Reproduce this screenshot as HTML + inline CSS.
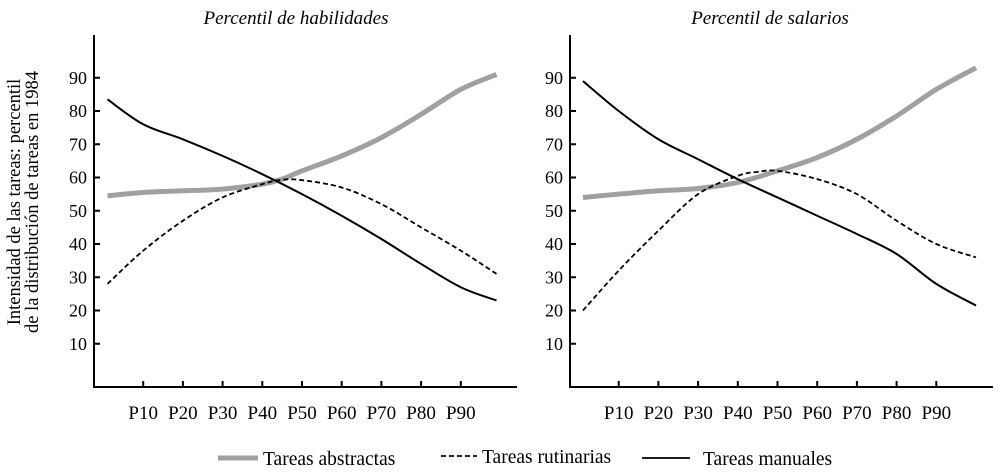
<!DOCTYPE html>
<html><head><meta charset="utf-8"><style>
html,body{margin:0;padding:0;background:#fff;}
svg{display:block;font-family:"Liberation Serif",serif;}
</style></head><body>
<svg id="chart" width="1002" height="473" viewBox="0 0 1002 473">
<text x="296" y="24" font-size="19" font-style="italic" text-anchor="middle">Percentil de habilidades</text>
<text x="770" y="24" font-size="19" font-style="italic" text-anchor="middle">Percentil de salarios</text>
<g transform="translate(20,202) rotate(-90)">
<text x="0" y="0" font-size="18.5" text-anchor="middle">Intensidad de las tareas: percentil</text>
<text x="0" y="18" font-size="18.5" text-anchor="middle">de la distribución de tareas en 1984</text>
</g>
<g id="panels"></g>
<g>
<line x1="218" y1="458" x2="258" y2="458" stroke="#a0a0a0" stroke-width="5"/>
<text x="263" y="465" font-size="19.5">Tareas abstractas</text>
<line x1="441" y1="456" x2="477" y2="456" stroke="#000" stroke-width="1.8" stroke-dasharray="5,3"/>
<text x="482" y="463" font-size="19.5">Tareas rutinarias</text>
<line x1="642" y1="458" x2="690" y2="458" stroke="#000" stroke-width="1.8"/>
<text x="703" y="465" font-size="19.5">Tareas manuales</text>
</g>
</svg>
<script>
const yTicks=[10,20,30,40,50,60,70,80,90];
const xTickLabels=['P10','P20','P30','P40','P50','P60','P70','P80','P90'];
const xTickValues=[10,20,30,40,50,60,70,80,90];
const leftAbsP=[1,10,20,30,40,45,50,60,70,80,90,99];
const leftAbsV=[54.5,55.5,56,56.5,58,59.5,62,66.5,72,79,86.5,91];
const leftRutP=[1,10,20,30,40,45,50,60,70,80,90,99];
const leftRutV=[28,38,47,54,58,59.3,59.2,57,52,45,38,31];
const leftManP=[1,10,20,30,40,50,60,70,80,90,99];
const leftManV=[83.5,76,71.5,66.5,61,55,48.5,41.5,34,27,23];
const rightAbsP=[1,10,20,30,40,50,60,70,80,90,100];
const rightAbsV=[54,55,56,56.7,58.5,62,66,71.5,78.5,86.5,93];
const rightRutP=[1,10,20,30,40,45,50,60,70,80,90,100];
const rightRutV=[20,32,44,55,60.5,61.7,62,59.5,55,47,40,36];
const rightManP=[1,10,20,30,40,50,60,70,80,90,100];
const rightManV=[89,80,71.5,65.5,59.5,54,48.5,43,37,28,21.5];

const NS='http://www.w3.org/2000/svg';
const root=document.getElementById('panels');
function mk(tag,attrs,parent){const e=document.createElementNS(NS,tag);for(const k in attrs)e.setAttribute(k,attrs[k]);parent.appendChild(e);return e;}
function smooth(pts){let d='M'+pts[0][0]+','+pts[0][1];for(let i=0;i<pts.length-1;i++){const p0=pts[Math.max(0,i-1)],p1=pts[i],p2=pts[i+1],p3=pts[Math.min(pts.length-1,i+2)];const c1x=p1[0]+(p2[0]-p0[0])/6,c1y=p1[1]+(p2[1]-p0[1])/6,c2x=p2[0]-(p3[0]-p1[0])/6,c2y=p2[1]-(p3[1]-p1[1])/6;d+=' C'+c1x+','+c1y+' '+c2x+','+c2y+' '+p2[0]+','+p2[1];}return d;}
function panel(name,axisX,x0,axisEnd,series){
  const g=mk('g',{},root);
  
  
  const sx=p=>x0+p*3.97, sy=v=>377-v*3.325;
  const ax=mk('path',{d:'M'+axisX+',35 V387 H'+axisEnd,fill:'none',stroke:'#000','stroke-width':2},g);
  
  
  yTicks.forEach(t=>{
    const l=mk('line',{x1:axisX,x2:axisX+6,y1:sy(t),y2:sy(t),stroke:'#000','stroke-width':2},g);
    
    
    const tx=mk('text',{x:axisX-7,y:sy(t)+6,'font-size':18,'text-anchor':'end'},g);
    tx.textContent=t;
    
    
  });
  xTickValues.forEach((t,i)=>{
    const l=mk('line',{x1:sx(t),x2:sx(t),y1:381,y2:387,stroke:'#000','stroke-width':2},g);
    
    
    const tx=mk('text',{x:sx(t),y:419,'font-size':19,'text-anchor':'middle'},g);
    tx.textContent=xTickLabels[i];
    
    
  });
  series.forEach(s=>{
    const pts=s.p.map((p,i)=>[sx(p),sy(s.v[i])]);
    const a={d:smooth(pts),fill:'none',stroke:s.c,'stroke-width':s.w};
    if(s.dash)a['stroke-dasharray']=s.dash;
    const path=mk('path',a,g);
    
    
  });
}
panel('left-panel',94,103.5,517,[
 {p:leftAbsP,v:leftAbsV,c:'#a0a0a0',w:5,n:'line-abstract-skills'},
 {p:leftRutP,v:leftRutV,c:'#000',w:1.8,dash:'5,3',n:'line-routine-skills'},
 {p:leftManP,v:leftManV,c:'#000',w:2,n:'line-manual-skills'}]);
panel('right-panel',570,579,993,[
 {p:rightAbsP,v:rightAbsV,c:'#a0a0a0',w:5,n:'line-abstract-wages'},
 {p:rightRutP,v:rightRutV,c:'#000',w:1.8,dash:'5,3',n:'line-routine-wages'},
 {p:rightManP,v:rightManV,c:'#000',w:2,n:'line-manual-wages'}]);
</script>
</body></html>
